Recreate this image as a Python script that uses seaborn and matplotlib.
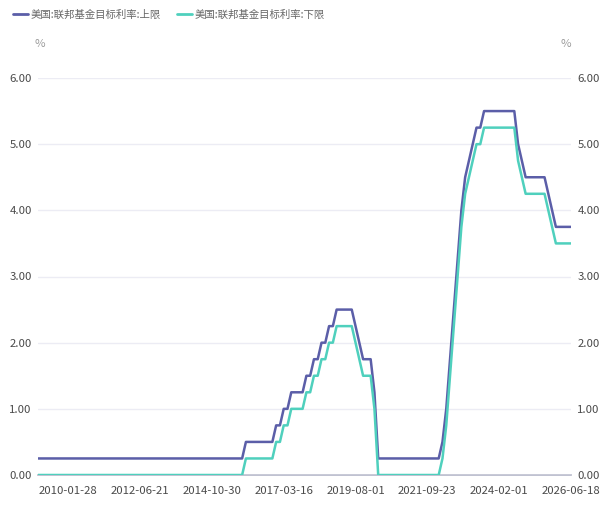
import pandas as pd
import seaborn as sns
import matplotlib.pyplot as plt
from matplotlib import font_manager

# FOMC decision dates (Beijing time) and target range bounds
dates = [
    "2009-01-29", "2009-03-19", "2009-04-30", "2009-06-25", "2009-08-13", "2009-09-24", "2009-11-05", "2009-12-17",
    "2010-01-28", "2010-03-17", "2010-04-29", "2010-06-24", "2010-08-11", "2010-09-22", "2010-11-04", "2010-12-15",
    "2011-01-27", "2011-03-16", "2011-04-28", "2011-06-23", "2011-08-10", "2011-09-22", "2011-11-03", "2011-12-14",
    "2012-01-26", "2012-03-14", "2012-04-26", "2012-06-21", "2012-08-02", "2012-09-14", "2012-10-25", "2012-12-13",
    "2013-01-31", "2013-03-21", "2013-05-02", "2013-06-20", "2013-08-01", "2013-09-19", "2013-10-31", "2013-12-19",
    "2014-01-30", "2014-03-20", "2014-05-01", "2014-06-19", "2014-07-31", "2014-09-18", "2014-10-30", "2014-12-18",
    "2015-01-29", "2015-03-19", "2015-04-30", "2015-06-18", "2015-07-30", "2015-09-18", "2015-10-29", "2015-12-17",
    "2016-01-28", "2016-03-17", "2016-04-28", "2016-06-16", "2016-07-28", "2016-09-22", "2016-11-03", "2016-12-15",
    "2017-02-02", "2017-03-16", "2017-05-04", "2017-06-15", "2017-07-27", "2017-09-21", "2017-11-02", "2017-12-14",
    "2018-02-01", "2018-03-22", "2018-05-03", "2018-06-14", "2018-08-02", "2018-09-27", "2018-11-09", "2018-12-20",
    "2019-01-31", "2019-03-21", "2019-05-02", "2019-06-20", "2019-08-01", "2019-09-19", "2019-10-31", "2019-12-12",
    "2020-01-30", "2020-03-04", "2020-03-16", "2020-03-24", "2020-04-30", "2020-06-11", "2020-07-30", "2020-09-17",
    "2020-11-06", "2020-12-17",
    "2021-01-28", "2021-03-18", "2021-04-29", "2021-06-17", "2021-07-29", "2021-09-23", "2021-11-04", "2021-12-16",
    "2022-01-27", "2022-03-17", "2022-05-05", "2022-06-16", "2022-07-28", "2022-09-22", "2022-11-03", "2022-12-15",
    "2023-02-02", "2023-03-23", "2023-05-04", "2023-06-15", "2023-07-27", "2023-09-21", "2023-11-02", "2023-12-14",
    "2024-02-01", "2024-03-21", "2024-05-02", "2024-06-13", "2024-08-01", "2024-09-19", "2024-11-08", "2024-12-19",
    "2025-01-30", "2025-03-20", "2025-05-08", "2025-06-19", "2025-07-31", "2025-09-18", "2025-10-30", "2025-12-11",
    "2026-01-29", "2026-03-19", "2026-04-30", "2026-06-18",
]

upper = [
    0.25, 0.25, 0.25, 0.25, 0.25, 0.25, 0.25, 0.25,
    0.25, 0.25, 0.25, 0.25, 0.25, 0.25, 0.25, 0.25,
    0.25, 0.25, 0.25, 0.25, 0.25, 0.25, 0.25, 0.25,
    0.25, 0.25, 0.25, 0.25, 0.25, 0.25, 0.25, 0.25,
    0.25, 0.25, 0.25, 0.25, 0.25, 0.25, 0.25, 0.25,
    0.25, 0.25, 0.25, 0.25, 0.25, 0.25, 0.25, 0.25,
    0.25, 0.25, 0.25, 0.25, 0.25, 0.25, 0.25, 0.50,
    0.50, 0.50, 0.50, 0.50, 0.50, 0.50, 0.50, 0.75,
    0.75, 1.00, 1.00, 1.25, 1.25, 1.25, 1.25, 1.50,
    1.50, 1.75, 1.75, 2.00, 2.00, 2.25, 2.25, 2.50,
    2.50, 2.50, 2.50, 2.50, 2.25, 2.00, 1.75, 1.75,
    1.75, 1.25, 0.25, 0.25, 0.25, 0.25, 0.25, 0.25, 0.25, 0.25,
    0.25, 0.25, 0.25, 0.25, 0.25, 0.25, 0.25, 0.25,
    0.25, 0.50, 1.00, 1.75, 2.50, 3.25, 4.00, 4.50,
    4.75, 5.00, 5.25, 5.25, 5.50, 5.50, 5.50, 5.50,
    5.50, 5.50, 5.50, 5.50, 5.50, 5.00, 4.75, 4.50,
    4.50, 4.50, 4.50, 4.50, 4.50, 4.25, 4.00, 3.75,
    3.75, 3.75, 3.75, 3.75,
]

lower = [
    0.00, 0.00, 0.00, 0.00, 0.00, 0.00, 0.00, 0.00,
    0.00, 0.00, 0.00, 0.00, 0.00, 0.00, 0.00, 0.00,
    0.00, 0.00, 0.00, 0.00, 0.00, 0.00, 0.00, 0.00,
    0.00, 0.00, 0.00, 0.00, 0.00, 0.00, 0.00, 0.00,
    0.00, 0.00, 0.00, 0.00, 0.00, 0.00, 0.00, 0.00,
    0.00, 0.00, 0.00, 0.00, 0.00, 0.00, 0.00, 0.00,
    0.00, 0.00, 0.00, 0.00, 0.00, 0.00, 0.00, 0.25,
    0.25, 0.25, 0.25, 0.25, 0.25, 0.25, 0.25, 0.50,
    0.50, 0.75, 0.75, 1.00, 1.00, 1.00, 1.00, 1.25,
    1.25, 1.50, 1.50, 1.75, 1.75, 2.00, 2.00, 2.25,
    2.25, 2.25, 2.25, 2.25, 2.00, 1.75, 1.50, 1.50,
    1.50, 1.00, 0.00, 0.00, 0.00, 0.00, 0.00, 0.00, 0.00, 0.00,
    0.00, 0.00, 0.00, 0.00, 0.00, 0.00, 0.00, 0.00,
    0.00, 0.25, 0.75, 1.50, 2.25, 3.00, 3.75, 4.25,
    4.50, 4.75, 5.00, 5.00, 5.25, 5.25, 5.25, 5.25,
    5.25, 5.25, 5.25, 5.25, 5.25, 4.75, 4.50, 4.25,
    4.25, 4.25, 4.25, 4.25, 4.25, 4.00, 3.75, 3.50,
    3.50, 3.50, 3.50, 3.50,
]

names = ["美国:联邦基金目标利率:上限", "美国:联邦基金目标利率:下限"]
colors = ["#5b5ea8", "#4fd0bd"]

df = pd.DataFrame({"idx": range(len(dates)), "date": dates, names[0]: upper, names[1]: lower})
long_df = df.melt(id_vars=["idx", "date"], value_vars=names, var_name="series", value_name="rate")

sns.set_style("white")
plt.rcParams["font.family"] = ["Noto Sans CJK SC", "DejaVu Sans"]

num_prop = font_manager.FontProperties(family="Noto Sans CJK SC", size=8.2)

fig = plt.figure(figsize=(6.03, 5.07), dpi=100)
ax = fig.add_axes([38 / 603, 32 / 507, (571 - 38) / 603, (475 - 78) / 507])

sns.lineplot(data=long_df, x="idx", y="rate", hue="series", hue_order=names,
             palette=colors, linewidth=1.8, ax=ax, legend=False)

ax.set_xlim(0, len(dates) - 1)
ax.set_ylim(0, 6)
ax.set_yticks([0, 1, 2, 3, 4, 5, 6])
ax.set_yticklabels([f"{v:.2f}" for v in range(7)])
tick_idx = list(range(8, len(dates), 19))
ax.set_xticks(tick_idx)
ax.set_xticklabels([dates[i] for i in tick_idx])
ax.tick_params(axis="y", labelleft=True, labelright=True, length=0, pad=4.5, labelcolor="#4a4a4a")
ax.tick_params(axis="x", length=0, pad=8, labelcolor="#4a4a4a")
for t in ax.xaxis.get_major_ticks() + ax.yaxis.get_major_ticks():
    t.label1.set_fontproperties(num_prop)
    t.label2.set_fontproperties(num_prop)
ax.set_xlabel("")
ax.set_ylabel("")

ax.grid(axis="y", color="#ececf4", linewidth=1)
ax.grid(axis="x", visible=False)
for s in ["top", "left", "right"]:
    ax.spines[s].set_visible(False)
ax.spines["bottom"].set_color("#b4b6c8")
ax.spines["bottom"].set_linewidth(1.2)
ax.spines["bottom"].set_zorder(0)

fig.text(40 / 603, 1 - 44 / 507, "%", color="#9a9a9a", fontproperties=num_prop, ha="center", va="center")
fig.text(566 / 603, 1 - 44 / 507, "%", color="#9a9a9a", fontproperties=num_prop, ha="center", va="center")

handles = [plt.Line2D([], [], color=c, linewidth=2) for c in colors]
fig.legend(handles, names, loc="center left", bbox_to_anchor=(13 / 603, 1 - 15 / 507), ncol=2, frameon=False,
           fontsize=7.5, labelcolor="#666666", handlelength=1.45, handletextpad=0.25,
           columnspacing=1.5, borderpad=0, borderaxespad=0)

fig.savefig("out.png", dpi=100)
